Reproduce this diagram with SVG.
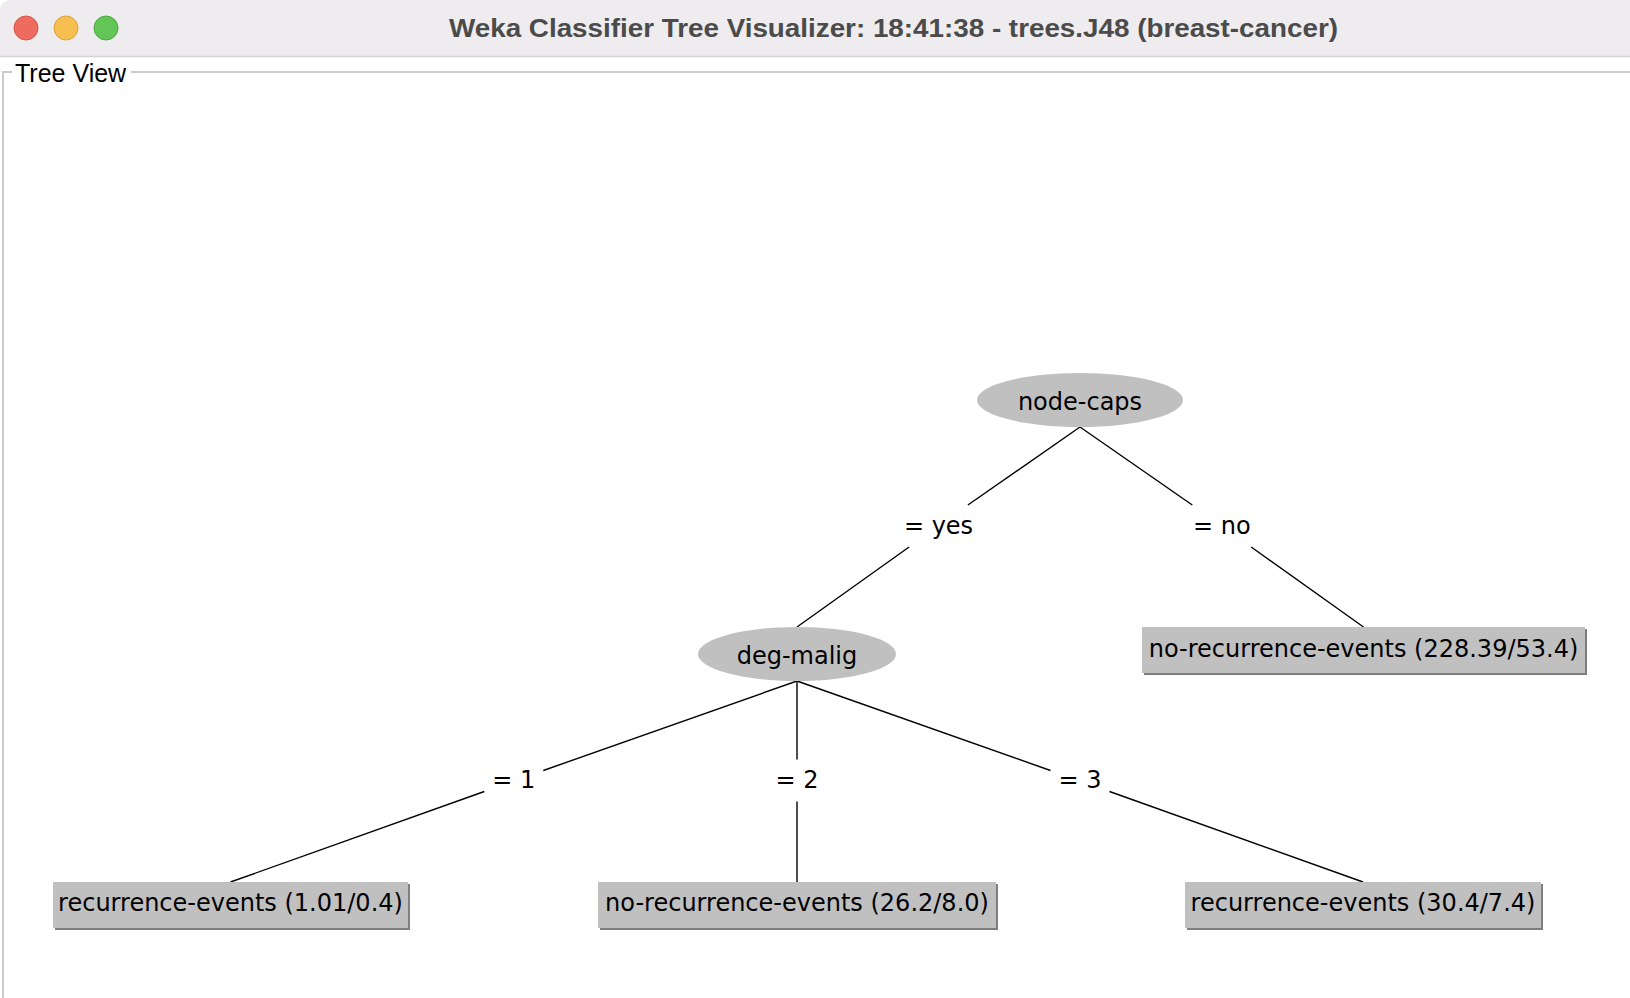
<svg xmlns="http://www.w3.org/2000/svg" width="1630" height="998" viewBox="0 0 1630 998">
  <style>
    .title { font-family: "Liberation Sans", Arial, sans-serif; font-weight: bold; font-size: 26px; fill: #4b4b4b; }
    .legend { font-family: "Liberation Sans", Arial, sans-serif; font-size: 25px; fill: #000; }
    .lbl { font-family: "DejaVu Sans", Verdana, sans-serif; font-size: 24px; fill: #000; text-anchor: middle; }
    .node { fill: #c0c0c0; }
    .shadow { fill: #7f7f7f; }
    .edge { stroke: #000; stroke-width: 1.4; fill: none; }
    .border { stroke: #cbcbcb; stroke-width: 2; fill: none; }
  </style>
  <rect x="0" y="0" width="1630" height="998" fill="#ffffff"/>
  <g id="window-chrome">
    <path d="M0 57 V12 Q0 0 12 0 H1630 V57 Z" fill="#eeecee"/>
    <line x1="0" y1="56.5" x2="1630" y2="56.5" stroke="#d4d4d4" stroke-width="1.5"/>
    <circle cx="26" cy="28" r="12" fill="#ee6b5f" stroke="#d5554b" stroke-width="1"/>
    <circle cx="66" cy="28" r="12" fill="#f6bf4f" stroke="#dca43c" stroke-width="1"/>
    <circle cx="106" cy="28" r="12" fill="#62c555" stroke="#4fa841" stroke-width="1"/>
    <text class="title" x="449" y="37" textLength="889" lengthAdjust="spacingAndGlyphs">Weka Classifier Tree Visualizer: 18:41:38 - trees.J48 (breast-cancer)</text>
  </g>
  <g id="tree-view-border">
    <path class="border" d="M12 72 H3 V998"/>
    <line class="border" x1="131" y1="72" x2="1630" y2="72"/>
    <text class="legend" x="15" y="82">Tree View</text>
  </g>
  <g id="connectors">
    <line class="edge" x1="1080" y1="427" x2="967.9" y2="505"/>
    <line class="edge" x1="909.1" y1="547" x2="797" y2="627"/>
    <line class="edge" x1="1080" y1="427" x2="1192.3" y2="505"/>
    <line class="edge" x1="1251.2" y1="547" x2="1363.5" y2="627"/>
    <line class="edge" x1="797" y1="681" x2="543.3" y2="770.5"/>
    <line class="edge" x1="484.3" y1="791.5" x2="230.5" y2="882"/>
    <line class="edge" x1="797" y1="681" x2="797" y2="759.5"/>
    <line class="edge" x1="797" y1="801.5" x2="797" y2="882"/>
    <line class="edge" x1="797" y1="681" x2="1050.5" y2="770.5"/>
    <line class="edge" x1="1109.5" y1="791.5" x2="1363" y2="882"/>
    <text class="lbl" x="938.5" y="534">= yes</text>
    <text class="lbl" x="1221.8" y="534">= no</text>
    <text class="lbl" x="513.8" y="788">= 1</text>
    <text class="lbl" x="797" y="788">= 2</text>
    <text class="lbl" x="1080" y="788">= 3</text>
  </g>
  <g id="node-caps">
    <ellipse class="node" cx="1080" cy="400" rx="103" ry="27"/>
    <text class="lbl" x="1080" y="410">node-caps</text>
  </g>
  <g id="deg-malig">
    <ellipse class="node" cx="797" cy="654" rx="99" ry="27"/>
    <text class="lbl" x="797" y="664">deg-malig</text>
  </g>
  <g id="leaf-no-recurrence-228">
    <rect class="shadow" x="1144" y="629" width="443" height="46"/>
    <rect class="node" x="1142" y="627" width="443" height="46"/>
    <text class="lbl" x="1363.5" y="657">no-recurrence-events (228.39/53.4)</text>
  </g>
  <g id="leaf-recurrence-1">
    <rect class="shadow" x="55" y="884" width="355" height="46"/>
    <rect class="node" x="53" y="882" width="355" height="46"/>
    <text class="lbl" x="230.5" y="911">recurrence-events (1.01/0.4)</text>
  </g>
  <g id="leaf-no-recurrence-26">
    <rect class="shadow" x="600" y="884" width="398" height="46"/>
    <rect class="node" x="598" y="882" width="398" height="46"/>
    <text class="lbl" x="797" y="911">no-recurrence-events (26.2/8.0)</text>
  </g>
  <g id="leaf-recurrence-30">
    <rect class="shadow" x="1187" y="884" width="356" height="46"/>
    <rect class="node" x="1185" y="882" width="356" height="46"/>
    <text class="lbl" x="1363" y="911">recurrence-events (30.4/7.4)</text>
  </g>
</svg>
